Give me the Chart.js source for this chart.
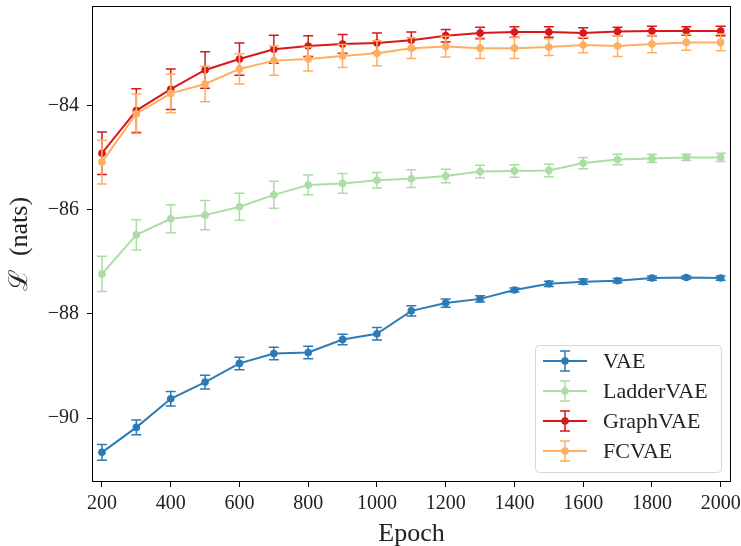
<!DOCTYPE html>
<html>
<head>
<meta charset="utf-8">
<script src="https://cdn.jsdelivr.net/npm/chart.js@4.4.0/dist/chart.umd.min.js"></script>
<style>
  html, body { margin: 0; padding: 0; background: #fff; }
  #wrap { width: 741px; height: 546px; position: relative; }
</style>
</head>
<body>
<div id="wrap"><canvas id="lossChart" width="741" height="546"></canvas></div>
<script>
const epochs = [200, 300, 400, 500, 600, 700, 800, 900, 1000, 1100, 1200, 1300, 1400, 1500, 1600, 1700, 1800, 1900, 2000];
const xTicks = [200, 400, 600, 800, 1000, 1200, 1400, 1600, 1800, 2000];
const yTicks = [-90, -88, -86, -84];

const vaeMean = [-90.66, -90.18, -89.63, -89.31, -88.95, -88.76, -88.74, -88.49, -88.38, -87.94, -87.79, -87.71, -87.54, -87.42, -87.38, -87.36, -87.31, -87.30, -87.31];
const vaeErr = [0.15, 0.14, 0.14, 0.13, 0.12, 0.12, 0.12, 0.10, 0.12, 0.10, 0.08, 0.06, 0.04, 0.05, 0.05, 0.04, 0.04, 0.03, 0.04];

const ladderMean = [-87.23, -86.48, -86.17, -86.10, -85.94, -85.71, -85.52, -85.49, -85.43, -85.40, -85.35, -85.26, -85.25, -85.24, -85.10, -85.03, -85.01, -84.99, -84.99];
const ladderErr = [0.34, 0.29, 0.27, 0.28, 0.26, 0.26, 0.19, 0.19, 0.15, 0.17, 0.13, 0.12, 0.12, 0.12, 0.11, 0.10, 0.08, 0.06, 0.08];

const graphMean = [-84.91, -84.09, -83.68, -83.31, -83.10, -82.91, -82.85, -82.81, -82.79, -82.74, -82.65, -82.60, -82.58, -82.58, -82.60, -82.57, -82.56, -82.56, -82.56];
const graphErr = [0.41, 0.42, 0.39, 0.35, 0.31, 0.27, 0.20, 0.18, 0.19, 0.16, 0.12, 0.11, 0.10, 0.10, 0.10, 0.08, 0.09, 0.08, 0.09];

const fcMean = [-85.08, -84.15, -83.76, -83.58, -83.29, -83.13, -83.10, -83.04, -82.99, -82.89, -82.86, -82.89, -82.89, -82.87, -82.83, -82.85, -82.81, -82.78, -82.78];
const fcErr = [0.42, 0.38, 0.37, 0.34, 0.29, 0.28, 0.23, 0.22, 0.24, 0.20, 0.20, 0.20, 0.20, 0.16, 0.15, 0.20, 0.17, 0.15, 0.16];

const FONT = "'Liberation Serif', 'DejaVu Serif', serif";

function pts(mean) {
    return epochs.map((e, i) => ({ x: e, y: mean[i] }));
}

function makeSet(label, mean, err, color, order) {
    return {
        label: label,
        data: pts(mean),
        errors: err,
        borderColor: color,
        backgroundColor: color,
        borderWidth: 2,
        pointRadius: 3.8,
        pointHoverRadius: 3.8,
        pointBorderWidth: 0,
        tension: 0,
        order: order
    };
}

// draws the vertical error bars with caps, just before each line
const errorBars = {
    id: 'errorBars',
    beforeDatasetDraw(chart, args) {
        const ds = chart.data.datasets[args.index];
        if (!ds.errors) return;
        const ctx = chart.ctx;
        const xs = chart.scales.x;
        const ys = chart.scales.y;
        ctx.save();
        ctx.strokeStyle = ds.borderColor;
        ctx.lineWidth = 1.5;
        ds.data.forEach((p, i) => {
            const px = xs.getPixelForValue(p.x);
            const top = ys.getPixelForValue(p.y + ds.errors[i]);
            const bot = ys.getPixelForValue(p.y - ds.errors[i]);
            ctx.beginPath();
            ctx.moveTo(px, top); ctx.lineTo(px, bot);
            ctx.moveTo(px - 5, top); ctx.lineTo(px + 5, top);
            ctx.moveTo(px - 5, bot); ctx.lineTo(px + 5, bot);
            ctx.stroke();
        });
        ctx.restore();
    }
};

// frame + legend drawn inside the plot, bottom right
const frameAndLegend = {
    id: 'frameAndLegend',
    afterDraw(chart) {
        const ctx = chart.ctx;
        const a = chart.chartArea;
        ctx.save();
        ctx.strokeStyle = '#000';
        ctx.lineWidth = 1;
        ctx.strokeRect(a.left + 0.5, a.top + 0.5, a.right - a.left - 1, a.bottom - a.top - 1);

        const bx = 535, by = 345, bw = 186, bh = 127;
        ctx.beginPath();
        ctx.roundRect(bx + 0.5, by + 0.5, bw, bh, 4);
        ctx.fillStyle = 'rgba(255,255,255,0.8)';
        ctx.fill();
        ctx.strokeStyle = '#d6d6d6';
        ctx.stroke();

        chart.data.datasets.forEach((ds, i) => {
            const cy = 361 + i * 30;
            ctx.strokeStyle = ds.borderColor;
            ctx.lineWidth = 2;
            ctx.beginPath();
            ctx.moveTo(543, cy); ctx.lineTo(587, cy);
            ctx.stroke();
            ctx.lineWidth = 1.5;
            ctx.beginPath();
            ctx.moveTo(565, cy - 10); ctx.lineTo(565, cy + 10);
            ctx.moveTo(560, cy - 10); ctx.lineTo(570, cy - 10);
            ctx.moveTo(560, cy + 10); ctx.lineTo(570, cy + 10);
            ctx.stroke();
            ctx.fillStyle = ds.borderColor;
            ctx.beginPath();
            ctx.arc(565, cy, 3.8, 0, Math.PI * 2);
            ctx.fill();
            ctx.fillStyle = '#222';
            ctx.font = '22px ' + FONT;
            ctx.textBaseline = 'middle';
            ctx.textAlign = 'left';
            ctx.fillText(ds.label, 603, cy + 1);
        });
        ctx.restore();
    }
};

const ctx = document.getElementById('lossChart').getContext('2d');
new Chart(ctx, {
    type: 'line',
    data: {
        datasets: [
            makeSet('VAE', vaeMean, vaeErr, '#2c7bb6', 4),
            makeSet('LadderVAE', ladderMean, ladderErr, '#abdda4', 3),
            makeSet('GraphVAE', graphMean, graphErr, '#d7191c', 2),
            makeSet('FCVAE', fcMean, fcErr, '#fdae61', 1)
        ]
    },
    options: {
        responsive: false,
        animation: false,
        layout: { padding: { top: 6, right: 10, left: 0, bottom: 0 } },
        plugins: {
            legend: { display: false },
            tooltip: { enabled: false }
        },
        scales: {
            x: {
                type: 'linear',
                min: 171,
                max: 2030,
                afterBuildTicks: s => { s.ticks = xTicks.map(v => ({ value: v })); },
                afterFit: s => { s.height = 64; s.paddingLeft = 0; s.paddingRight = 0; },
                grid: { drawOnChartArea: false, tickLength: 5, color: '#000' },
                border: { display: false },
                ticks: {
                    color: '#222',
                    padding: 5,
                    maxRotation: 0,
                    font: { family: FONT, size: 20 },
                    callback: v => String(v)
                },
                title: {
                    display: true,
                    text: 'Epoch',
                    color: '#222',
                    padding: { top: 0, bottom: -4 },
                    font: { family: FONT, size: 26 }
                }
            },
            y: {
                min: -91.23,
                max: -82.08,
                afterBuildTicks: s => { s.ticks = yTicks.map(v => ({ value: v })); },
                afterFit: s => { s.width = 92; s.paddingTop = 0; s.paddingBottom = 0; },
                grid: { drawOnChartArea: false, tickLength: 5, color: '#000' },
                border: { display: false },
                ticks: {
                    color: '#222',
                    padding: 8,
                    font: { family: FONT, size: 20 },
                    callback: v => String(v).replace('-', '\u2212')
                },
                title: {
                    display: true,
                    text: '\u2112  (nats)',
                    color: '#222',
                    padding: { top: 5, bottom: 0 },
                    font: { family: FONT, size: 26 }
                }
            }
        }
    },
    plugins: [errorBars, frameAndLegend]
});
</script>
</body>
</html>
